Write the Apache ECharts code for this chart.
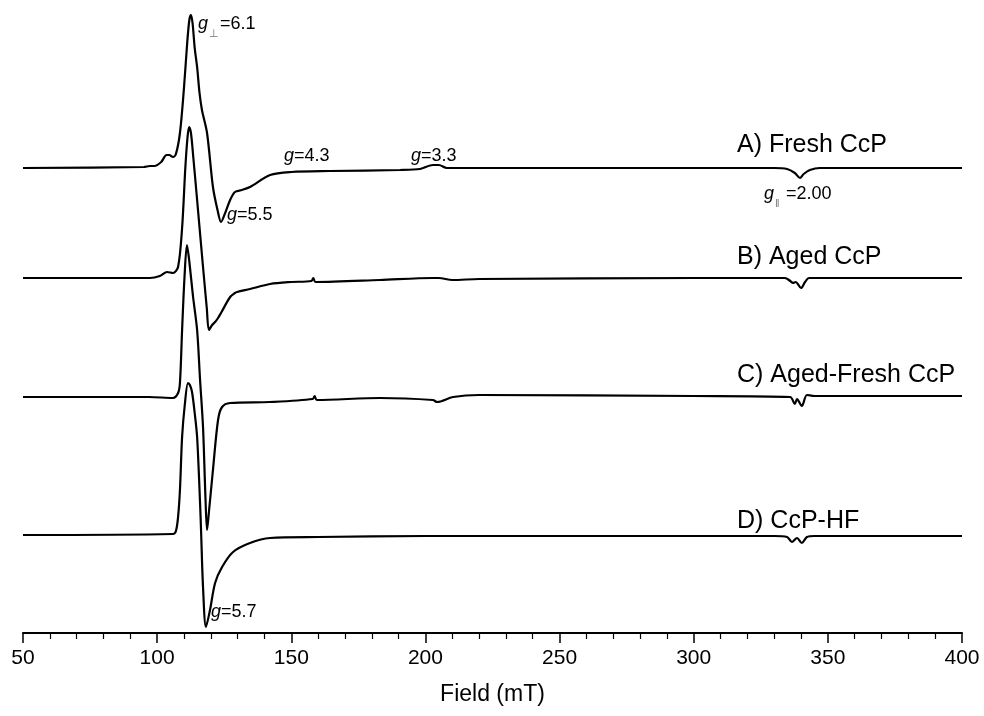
<!DOCTYPE html>
<html>
<head>
<meta charset="utf-8">
<script src="https://cdn.jsdelivr.net/npm/echarts@6/dist/echarts.min.js"></script>
<style>html,body{margin:0;padding:0;background:#fff}#c{width:984px;height:716px}</style>
</head>
<body>
<div id="c"></div>
<script>
// Field values (mT) and relative intensities
const fieldA = [50, 95, 97.3, 99, 101.5, 103.5, 104.5, 105.9, 107, 108.5, 110, 111.2, 112, 112.6, 113.2, 114, 114.9, 115.8, 116.7, 118.6, 120.8, 122.5, 123.8, 125.5, 127.2, 129, 131.6, 134.6, 142.1, 150, 164.4, 190.5, 198, 202.8, 205, 208, 215, 260, 330, 334.8, 337.7, 339.6, 341, 343.3, 347, 400];
const intensA = [0, 1, 2, 2, 6, 13, 13, 11, 14, 35, 80, 125, 148, 153, 145, 120, 101, 75, 58, 35, -19, -42, -54, -44, -32, -24, -22, -19, -7, -4, -3, -2, -1, 3, 3, 0, 0, 0, 0, -1, -5, -10, -6, -2, 0, 0];

const fieldB = [50, 97.3, 101, 103.7, 105.9, 107.8, 109.3, 110.5, 111.3, 111.9, 112.6, 113.5, 114.9, 117.1, 118.5, 119.3, 120.5, 121.6, 122.7, 124, 127.2, 129, 129.8, 134.6, 142.1, 150, 157.5, 158.2, 159, 183, 202.8, 205, 210, 220, 300, 334, 336, 337, 338, 340, 341.5, 343, 400];
const intensB = [0, 0, 2, 6, 5, 11, 50, 110, 140, 151, 145, 120, 78, 11, -30, -52, -47, -44, -40, -34, -19, -15, -14, -11, -6, -4, -3, 0, -4, -2, 0, 0, -2, -1, 0, 0, -3, -5, -4, -10, -4, 0, 0];

const fieldC = [50, 97, 105.9, 107.8, 108.5, 109.3, 110.2, 111.1, 111.8, 113.4, 114.9, 116, 117.1, 118, 118.6, 119.3, 120.8, 122.7, 124.2, 127.2, 142, 158, 158.7, 159.5, 183, 202.8, 204.3, 210.3, 220, 300, 335.9, 337.7, 338.5, 340.3, 342.2, 345, 400];
const intensC = [0, 0, -1, 4, 14, 67, 120, 152, 140, 100, 67, 17, -30, -100, -133, -115, -73, -23, -10, -6, -5, -2, 1, -3, -1, -3, -5, 0, 2, 1, 0, -7, -2, -9, 2, 1, 1];

const fieldD = [50, 105.9, 107, 107.8, 108.5, 109.3, 110.3, 111.5, 112.2, 113, 114, 114.9, 116, 116.4, 117.1, 118.2, 119.7, 121.6, 124.2, 128.3, 134.6, 142.1, 160, 200, 330, 334.8, 336.6, 338.5, 340.3, 342.2, 345, 400];
const intensD = [0, 1, 4, 18, 45, 98, 130, 152, 150, 143, 122, 98, 32, 2, -52, -92, -75, -48, -32, -17, -8, -3, -2, -1, -1, -2, -7, -3, -8, -2, -1, -1];

const seriesNames = ['A) Fresh CcP', 'B) Aged CcP', 'C) Aged-Fresh CcP', 'D) CcP-HF'];
const stackOffsets = [465, 355, 236, 98];
const xTicks = [50, 100, 150, 200, 250, 300, 350, 400];

const fields = [fieldA, fieldB, fieldC, fieldD];
const intens = [intensA, intensB, intensC, intensD];

const chart = echarts.init(document.getElementById('c'), null, {renderer: 'canvas'});
const FONT = 'Liberation Sans, Arial, sans-serif';

const series = fields.map((f, k) => ({
  type: 'line',
  name: seriesNames[k],
  data: f.map((x, i) => [x, intens[k][i] + stackOffsets[k]]),
  showSymbol: false,
  smooth: 0.3,
  lineStyle: {color: '#000', width: 2.2},
  silent: true,
  animation: false
}));

function gLabel(x, y, sub, rest) {
  const els = [{type: 'text', x: x, y: y, style: {text: 'g', font: 'italic 18px ' + FONT, fill: '#000', align: 'left', verticalAlign: 'middle'}}];
  let rx = x + 10;
  if (sub) {
    els.push({type: 'text', x: x + 11, y: y + 10, style: {text: sub, font: '11px ' + FONT, fill: '#777', align: 'left', verticalAlign: 'middle'}});
    rx = x + 22;
  }
  els.push({type: 'text', x: rx, y: y, style: {text: rest, font: '18px ' + FONT, fill: '#000', align: 'left', verticalAlign: 'middle'}});
  return {type: 'group', children: els};
}

const labelCenters = [145, 257, 375, 521];
const graphics = seriesNames.map((n, k) => ({
  type: 'text', x: 737, y: labelCenters[k],
  style: {text: n, font: '25px ' + FONT, fill: '#000', align: 'left', verticalAlign: 'middle'}
}));
graphics.push(gLabel(198, 24, '\u22a5', '=6.1'));
graphics.push(gLabel(227, 215, null, '=5.5'));
graphics.push(gLabel(284, 156, null, '=4.3'));
graphics.push(gLabel(411, 156, null, '=3.3'));
graphics.push(gLabel(764, 194, '\u2016', '=2.00'));
graphics.push(gLabel(211, 612, null, '=5.7'));

chart.setOption({
  backgroundColor: '#fff',
  animation: false,
  grid: {left: 23, right: 22, top: 3, bottom: 83},
  xAxis: {
    type: 'value', min: 50, max: 400, interval: 50,
    name: 'Field (mT)', nameLocation: 'middle', nameGap: 50,
    nameTextStyle: {color: '#000', fontSize: 23, fontFamily: FONT},
    axisLine: {show: true, onZero: false, lineStyle: {color: '#000', width: 2}},
    axisTick: {show: true, inside: false, length: 10, lineStyle: {color: '#000', width: 1.5}},
    minorTick: {show: true, splitNumber: 5, length: 6, lineStyle: {color: '#000', width: 1.2}},
    axisLabel: {color: '#000', fontSize: 21, fontFamily: FONT, margin: 15,
      formatter: v => xTicks.indexOf(v) >= 0 ? String(v) : ''},
    splitLine: {show: false}
  },
  yAxis: {type: 'value', min: 0, max: 630, show: false, splitLine: {show: false}},
  series: series,
  graphic: graphics
});
</script>
</body>
</html>
